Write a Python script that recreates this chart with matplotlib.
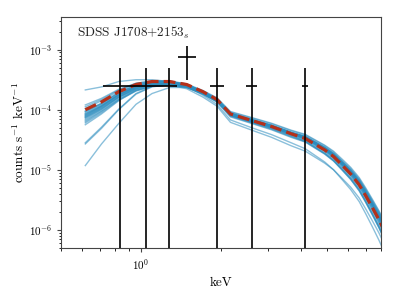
import numpy as np
import matplotlib
matplotlib.use("Agg")
import matplotlib.pyplot as plt
from matplotlib.ticker import NullFormatter

plt.rcParams['font.family'] = ['cmr10', 'DejaVu Serif']
plt.rcParams['mathtext.fontset'] = 'cm'
plt.rcParams['axes.formatter.use_mathtext'] = True

# ---- data ----
# observed points (keV, counts/s/keV)
pt_x = [0.83, 1.045, 1.27, 1.485, 1.93, 2.61, 4.15]
pt_xlo = [0.722, 0.957, 1.15, 1.38, 1.82, 2.49, 4.04]
pt_xhi = [0.957, 1.15, 1.37, 1.61, 2.05, 2.72, 4.26]
pt_y = [2.5e-4, 2.5e-4, 2.5e-4, 7.6e-4, 2.5e-4, 2.5e-4, 2.5e-4]
pt_ylo = [1e-12, 1e-12, 1e-12, 3.16e-4, 1e-12, 1e-12, 1e-12]
pt_yhi = [5.0e-4, 5.0e-4, 5.0e-4, 1.17e-3, 5.0e-4, 5.0e-4, 5.0e-4]

# model energy grid (keV)
model_e = [0.617, 0.71, 0.824, 0.957, 1.10, 1.28, 1.485, 1.71, 1.93, 2.17,
           2.61, 3.10, 3.67, 4.15, 4.91, 5.30, 5.70, 6.15, 6.62, 7.00,
           7.42, 7.85, 8.30]
# median model, log10 counts/s/keV
median_log = [-4.00, -3.87, -3.70, -3.58, -3.53, -3.53, -3.58, -3.70, -3.83, -4.07,
              -4.18, -4.28, -4.40, -4.48, -4.67, -4.78, -4.92, -5.07, -5.25, -5.43,
              -5.63, -5.83, -6.05]

# individual model draws: offsets from the median (dex)
draw_offsets = [
    [0.08, 0.06, 0.04, 0.02, 0.01, 0.00, -0.01, -0.02, -0.02, -0.03, -0.03, -0.035, -0.04, -0.05, -0.06, -0.07, -0.08, -0.09, -0.10, -0.11, -0.12, -0.13, -0.14],
    [0.05, 0.04, 0.03, 0.02, 0.01, 0.01, 0.00, 0.00, 0.00, 0.01, 0.01, 0.015, 0.02, 0.02, 0.03, 0.035, 0.04, 0.045, 0.05, 0.055, 0.06, 0.065, 0.07],
    [0.02, 0.02, 0.01, 0.01, 0.00, 0.00, 0.00, 0.00, 0.00, 0.00, 0.00, 0.00, 0.00, 0.00, 0.01, 0.01, 0.01, 0.01, 0.01, 0.015, 0.02, 0.02, 0.02],
    [-0.02, -0.02, -0.01, -0.01, -0.01, 0.00, 0.00, 0.01, 0.01, 0.02, 0.02, 0.025, 0.03, 0.04, 0.05, 0.055, 0.06, 0.07, 0.08, 0.09, 0.10, 0.11, 0.12],
    [-0.04, -0.03, -0.02, -0.02, -0.01, -0.01, 0.00, 0.00, 0.01, 0.01, 0.02, 0.02, 0.02, 0.03, 0.03, 0.035, 0.04, 0.045, 0.05, 0.055, 0.06, 0.07, 0.08],
    [-0.06, -0.05, -0.04, -0.03, -0.02, -0.01, -0.01, 0.00, 0.00, 0.01, 0.01, 0.01, 0.01, 0.02, 0.02, 0.02, 0.02, 0.025, 0.03, 0.035, 0.04, 0.045, 0.05],
    [-0.08, -0.07, -0.05, -0.04, -0.03, -0.02, -0.02, -0.01, -0.01, 0.00, 0.00, 0.00, 0.00, 0.00, 0.00, 0.00, 0.00, 0.00, 0.00, 0.00, 0.00, 0.00, 0.00],
    [-0.10, -0.08, -0.06, -0.05, -0.04, -0.03, -0.02, -0.02, -0.02, -0.02, -0.02, -0.02, -0.02, -0.03, -0.03, -0.035, -0.04, -0.045, -0.05, -0.055, -0.06, -0.065, -0.07],
    [-0.12, -0.10, -0.08, -0.06, -0.05, -0.04, -0.03, -0.02, -0.01, 0.00, 0.01, 0.015, 0.02, 0.03, 0.04, 0.045, 0.05, 0.055, 0.06, 0.07, 0.08, 0.09, 0.10],
    [-0.14, -0.12, -0.09, -0.07, -0.05, -0.04, -0.03, -0.03, -0.02, -0.02, -0.01, -0.01, -0.01, -0.01, -0.01, -0.015, -0.02, -0.02, -0.02, -0.025, -0.03, -0.035, -0.04],
    [-0.16, -0.13, -0.10, -0.08, -0.06, -0.05, -0.04, -0.03, -0.03, -0.03, -0.03, -0.03, -0.03, -0.04, -0.05, -0.055, -0.06, -0.07, -0.08, -0.09, -0.10, -0.11, -0.12],
    [-0.18, -0.15, -0.12, -0.09, -0.07, -0.05, -0.04, -0.03, -0.02, -0.01, 0.00, 0.005, 0.01, 0.02, 0.02, 0.025, 0.03, 0.035, 0.04, 0.045, 0.05, 0.055, 0.06],
    [-0.20, -0.16, -0.13, -0.10, -0.08, -0.06, -0.05, -0.04, -0.04, -0.04, -0.04, -0.045, -0.05, -0.05, -0.06, -0.065, -0.07, -0.075, -0.08, -0.09, -0.10, -0.11, -0.12],
    [-0.22, -0.18, -0.14, -0.11, -0.08, -0.06, -0.05, -0.04, -0.03, -0.02, -0.02, -0.015, -0.01, -0.01, -0.01, -0.01, -0.01, -0.015, -0.02, -0.02, -0.02, -0.025, -0.03],
    [-0.13, -0.11, -0.09, -0.07, -0.05, -0.04, -0.03, -0.02, -0.02, -0.01, -0.01, -0.005, 0.00, 0.01, 0.01, 0.015, 0.02, 0.025, 0.03, 0.035, 0.04, 0.045, 0.05],
    [-0.03, -0.03, -0.02, -0.01, 0.00, 0.01, 0.01, 0.02, 0.03, 0.04, 0.05, 0.055, 0.06, 0.07, 0.08, 0.09, 0.10, 0.11, 0.12, 0.13, 0.14, 0.15, 0.16],
    [-0.09, -0.07, -0.05, -0.03, -0.02, -0.01, 0.00, 0.01, 0.02, 0.03, 0.04, 0.045, 0.05, 0.06, 0.07, 0.075, 0.08, 0.09, 0.10, 0.11, 0.12, 0.135, 0.15],
    [-0.07, -0.06, -0.05, -0.04, -0.03, -0.03, -0.03, -0.04, -0.04, -0.05, -0.05, -0.055, -0.06, -0.06, -0.07, -0.075, -0.08, -0.09, -0.10, -0.11, -0.12, -0.135, -0.15],
    [-0.11, -0.09, -0.07, -0.05, -0.04, -0.03, -0.02, -0.01, 0.00, 0.00, 0.00, 0.005, 0.01, 0.01, 0.01, 0.01, 0.01, 0.015, 0.02, 0.02, 0.02, 0.02, 0.02],
    [0.33, 0.25, 0.17, 0.08, 0.03, 0.00, -0.03, -0.06, -0.08, -0.10, -0.12, -0.135, -0.15, -0.17, -0.20, -0.22, -0.24, -0.26, -0.28, -0.30, -0.32, -0.34, -0.36],
    [-0.57, -0.44, -0.30, -0.16, -0.09, -0.05, -0.03, -0.02, -0.01, 0.00, 0.01, 0.015, 0.02, 0.03, 0.04, 0.045, 0.05, 0.055, 0.06, 0.065, 0.07, 0.075, 0.08],
    [-0.55, -0.42, -0.29, -0.15, -0.08, -0.05, -0.03, -0.02, -0.02, -0.01, 0.00, 0.005, 0.01, 0.02, 0.02, 0.025, 0.03, 0.035, 0.04, 0.045, 0.05, 0.055, 0.06],
    [-0.93, -0.70, -0.53, -0.33, -0.20, -0.10, -0.05, -0.03, -0.02, -0.01, 0.00, 0.01, 0.02, 0.03, 0.04, 0.05, 0.06, 0.07, 0.08, 0.09, 0.10, 0.11, 0.12],
    [-0.25, -0.20, -0.15, -0.10, -0.07, -0.06, -0.07, -0.09, -0.11, -0.14, -0.16, -0.18, -0.20, -0.21, -0.22, -0.22, -0.22, -0.22, -0.22, -0.22, -0.22, -0.22, -0.22],
]

label_text = r"SDSS J1708+2153$_s$"

# ---- figure ----
fig = plt.figure(figsize=(3.99, 2.99), dpi=100)
ax = fig.add_axes([0.153, 0.171, 0.802, 0.772])

e = np.array(model_e)
med = np.array(median_log)
for off in draw_offsets:
    ax.plot(e, 10 ** (med + np.array(off)), color='#2b8cbe', alpha=0.55, lw=1.0, zorder=2)

ax.plot(e, 10 ** med, color='#b5301a', lw=2.3, ls='--', zorder=3)

x = np.array(pt_x); y = np.array(pt_y)
xerr = [x - np.array(pt_xlo), np.array(pt_xhi) - x]
yerr = [y - np.array(pt_ylo), np.array(pt_yhi) - y]
ax.errorbar(x, y, xerr=xerr, yerr=yerr, fmt='none', ecolor='black', elinewidth=1.2,
            capsize=0, zorder=4)

ax.set_xscale('log')
ax.set_yscale('log')
ax.set_xlim(0.5, 8.0)
ax.set_ylim(5e-7, 3.5e-3)
ax.xaxis.set_minor_formatter(NullFormatter())

ax.set_xlabel('keV', fontsize=9.5)
ax.set_ylabel(r'counts s$^{-1}$ keV$^{-1}$', fontsize=9.5, labelpad=1.5)
ax.tick_params(labelsize=8, color='#444444')
ax.tick_params(which='major', length=3)
ax.tick_params(which='minor', length=1.8)
for s in ax.spines.values():
    s.set_color('#444444')

ax.text(0.05, 0.93, label_text, transform=ax.transAxes, fontsize=9.5,
        va='center', ha='left', color='#222222')

fig.savefig('out.png', dpi=100)
